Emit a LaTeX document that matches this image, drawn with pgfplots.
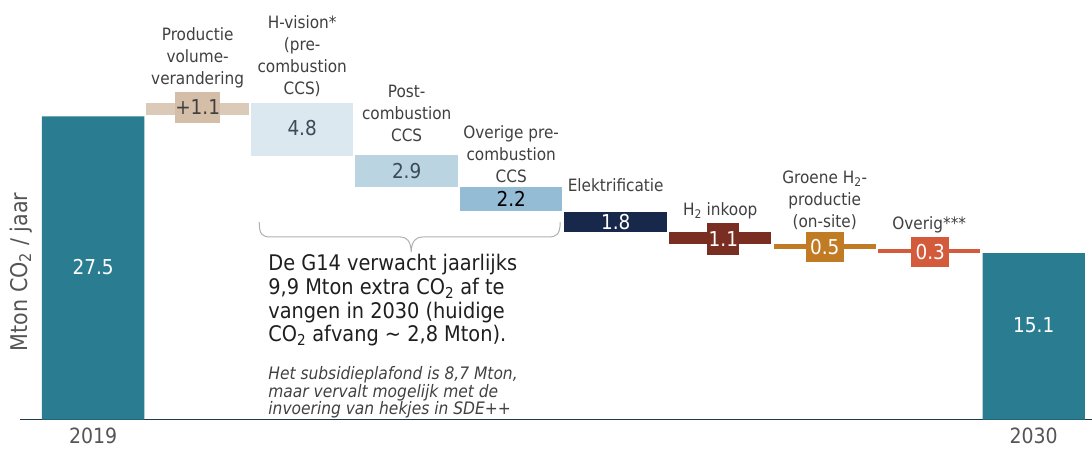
\documentclass[border=0pt]{standalone}
\usepackage{pgfplots}
\pgfplotsset{compat=1.18}
\usepackage{pgfplotstable}
\usepackage{fontspec}
\setmainfont{DejaVu Sans Condensed}[ItalicFont={DejaVu Sans Condensed Oblique},BoldFont={DejaVu Sans Condensed Bold}]
\definecolor{cTeal}{HTML}{2A7C91}
\definecolor{cTan}{HTML}{DCCAB8}
\definecolor{cTanBox}{HTML}{D4BEA8}
\definecolor{cHV}{HTML}{DCE8F0}
\definecolor{cPost}{HTML}{BAD4E2}
\definecolor{cOvr}{HTML}{94BCD4}
\definecolor{cNav}{HTML}{17284A}
\definecolor{cBrn}{HTML}{7A2E22}
\definecolor{cOrg}{HTML}{C27B25}
\definecolor{cRed}{HTML}{D35A3A}
\definecolor{cAxis}{HTML}{1E3A4F}
\definecolor{cLab}{HTML}{404040}
\definecolor{cTick}{HTML}{555555}
\definecolor{cBrace}{HTML}{B0B0B0}
\definecolor{cBig}{HTML}{1F1F1F}
\definecolor{cVal}{HTML}{3B4B57}
\tikzset{
  lab/.style={font=\fontsize{17}{22}\selectfont, text=cLab, align=center, inner sep=0pt, anchor=south},
  val/.style={font=\fontsize{20.5}{22}\selectfont, inner sep=0pt},
}
\pgfplotstableread{
x base teal tan hv post ovr nav brn org red
0 0     27.5 0   0   0   0   0   0   0   0
1 27.6  0    1.1 0   0   0   0   0   0   0
2 23.9  0    0   4.8 0   0   0   0   0   0
3 21.1  0    0   0   2.9 0   0   0   0   0
4 18.9  0    0   0   0   2.2 0   0   0   0
5 17.05 0    0   0   0   0   1.8 0   0   0
6 15.95 0    0   0   0   0   0   1.1 0   0
7 15.45 0    0   0   0   0   0   0   0.5 0
8 15.15 0    0   0   0   0   0   0   0   0.3
9 0     15.1 0   0   0   0   0   0   0   0
}\wf
\begin{document}
\begin{tikzpicture}
\useasboundingbox (0pt,0pt) rectangle (1092pt,450pt);
\begin{axis}[
  at={(20pt,30.5pt)}, anchor=south west,
  scale only axis, width=1072.2pt, height=418.8pt,
  xmin=-0.7, xmax=9.56, ymin=0, ymax=38,
  axis x line*=bottom, axis y line=none,
  x axis line style={-, draw=cAxis, line width=1.6pt},
  xtick={0,9}, xticklabels={2019,2030}, ytick=\empty,
  major tick length=0pt,
  xticklabel style={font=\fontsize{21}{24}\selectfont, text=cTick, yshift=-7pt, inner sep=1pt},
  ybar stacked, bar width=0.98,
  clip=false,
]
\addplot[draw=none, fill=none] table[x=x, y=base] {\wf};
\addplot[draw=none, fill=cTeal] table[x=x, y=teal] {\wf};
\addplot[draw=none, fill=cTan] table[x=x, y=tan] {\wf};
\addplot[draw=none, fill=cHV] table[x=x, y=hv] {\wf};
\addplot[draw=none, fill=cPost] table[x=x, y=post] {\wf};
\addplot[draw=none, fill=cOvr] table[x=x, y=ovr] {\wf};
\addplot[draw=none, fill=cNav] table[x=x, y=nav] {\wf};
\addplot[draw=none, fill=cBrn] table[x=x, y=brn] {\wf};
\addplot[draw=none, fill=cOrg] table[x=x, y=org] {\wf};
\addplot[draw=none, fill=cRed] table[x=x, y=red] {\wf};

% anchor points for value labels
\coordinate (v0) at (axis cs:0,13.84);
\coordinate (v9) at (axis cs:9,8.58);
\coordinate (v1) at (axis cs:1,28.31);
\coordinate (v2) at (axis cs:2,26.45);
\coordinate (v3) at (axis cs:3,22.55);
\coordinate (v4) at (axis cs:4,20.0);
\coordinate (v5) at (axis cs:5,17.92);
\coordinate (v6) at (axis cs:6.03,16.38);
\coordinate (v7) at (axis cs:7.0,15.65);
\coordinate (v8) at (axis cs:8.01,15.2);

% category labels
\node[lab] at (axis cs:1,30.08) {Productie\\volume-\\verandering};
\node[lab] at (axis cs:2,29.26) {H-vision*\\(pre-\\combustion\\CCS)};
\node[lab] at (axis cs:3,25.2) {Post-\\combustion\\CCS};
\node[lab] at (axis cs:4,21.46) {Overige pre-\\combustion\\CCS};
\node[lab] at (axis cs:5,20.69) {Elektrificatie};
\node[lab] at (axis cs:6,18.13) {H\textsubscript{2} inkoop};
\node[lab] at (axis cs:7,17.2) {Groene H\textsubscript{2}-\\productie\\(on-site)};
\node[lab] at (axis cs:8,16.92) {Overig***};

% brace
\draw[cBrace, line width=1pt] (axis cs:1.589,17.92) .. controls (axis cs:1.589,16.75) and (axis cs:1.62,16.56) .. (axis cs:1.70,16.56) -- (axis cs:2.94,16.56) .. controls (axis cs:3.0,16.56) and (axis cs:3.04,16.2) .. (axis cs:3.043,15.2) .. controls (axis cs:3.046,16.2) and (axis cs:3.09,16.56) .. (axis cs:3.15,16.56) -- (axis cs:4.354,16.56) .. controls (axis cs:4.43,16.56) and (axis cs:4.469,16.75) .. (axis cs:4.469,17.92);

% annotation text
\node[anchor=north west, inner sep=0pt, align=left, font=\fontsize{21.5}{23.8}\selectfont, text=cBig] at (axis cs:1.675,15.02) {De G14 verwacht jaarlijks\\9,9 Mton extra CO\textsubscript{2} af te\\vangen in 2030 (huidige\\CO\textsubscript{2} afvang \textasciitilde{} 2,8 Mton).};
\node[anchor=north west, inner sep=0pt, align=left, font=\itshape\fontsize{17.2}{17.6}\selectfont, text=cBig!85] at (axis cs:1.675,4.83) {Het subsidieplafond is 8,7 Mton,\\maar vervalt mogelijk met de\\invoering van hekjes in SDE++};
\end{axis}
% value labels (on top of the bars)
\node[val, text=white] at (v0) {27.5};
\node[val, text=white] at (v9) {15.1};
\node[val, fill=cTanBox, minimum width=42pt, minimum height=31pt, text=cLab] at (v1) {+1.1};
\node[val, text=cVal] at (v2) {4.8};
\node[val, text=cVal] at (v3) {2.9};
\node[val, text=black] at (v4) {2.2};
\node[val, text=white] at (v5) {1.8};
\node[val, fill=cBrn, minimum width=32pt, minimum height=32pt, text=white] at (v6) {1.1};
\node[val, fill=cOrg, minimum width=38pt, minimum height=30pt, text=white] at (v7) {0.5};
\node[val, fill=cRed, minimum width=38pt, minimum height=30pt, text=white] at (v8) {0.3};
\node[rotate=90, font=\fontsize{23}{28}\selectfont, text=cTick] at (21pt,178pt) {Mton CO\textsubscript{2} / jaar};
\end{tikzpicture}
\end{document}
